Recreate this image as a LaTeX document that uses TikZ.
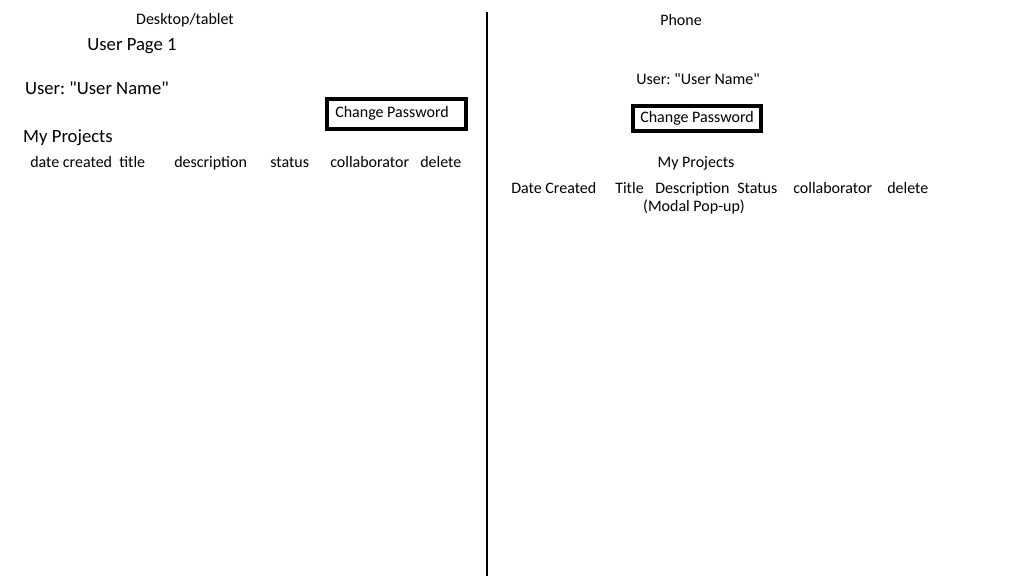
\documentclass[tikz,border=0pt]{standalone}
\usepackage{fontspec}
\setmainfont{Carlito}
\usepackage{tikz}
\frenchspacing

\newcommand{\qt}{\textquotedbl}

\tikzset{
  small/.style={inner sep=0pt,font=\fontsize{12}{14}\selectfont},
  big/.style={inner sep=0pt,font=\fontsize{14}{16}\selectfont},
  pwbox/.style={draw,line width=2.4pt,inner sep=0pt},
  cell/.style={small,anchor=base west},
}

\begin{document}
\begin{tikzpicture}[x=0.75pt,y=-0.75pt]
\useasboundingbox (0,0) rectangle (1024,576);

% desktop / tablet
\node [small,anchor=base] (desktop) at (185,24.5) {Desktop/tablet};
\node [big,anchor=base] (page) at (132,50.5) {User Page 1};
\node [big,anchor=base] (user) at (97,94.5) {User: \qt User Name\qt};
\node [pwbox,minimum width=139*0.75pt,minimum height=30*0.75pt] (pwleft) at (396.5,114) {};
\node [cell] (pwlefttext) at (335,117.5) {Change Password};
\node [big,anchor=base] (projects) at (68,142.5) {My Projects};
\node [cell] (dcleft) at (30,167.5) {date created};
\node [cell] (titleleft) at (119,167.5) {title};
\node [cell] (descleft) at (174,167.5) {description};
\node [cell] (statusleft) at (270,167.5) {status};
\node [cell] (collableft) at (330,167.5) {collaborator};
\node [cell] (delleft) at (420,167.5) {delete};

% divider
\coordinate (top) at (487,12);
\coordinate (bottom) at (487,576);
\draw [line width=2.2pt] (top) -- (bottom);

% phone
\node [small,anchor=base] (phone) at (681,25.5) {Phone};
\node [small,anchor=base] (userright) at (698,84.5) {User: \qt User Name\qt};
\node [pwbox,minimum width=128*0.75pt,minimum height=25*0.75pt] (pwright) at (697,118.5) {};
\node [small,anchor=base] (pwrighttext) at (697,122.5) {Change Password};
\node [small,anchor=base] (projectsright) at (696,167.5) {My Projects};
\node [cell] (dcright) at (511,193.5) {Date Created};
\node [cell] (titleright) at (615,193.5) {Title};
\node [cell] (descright) at (655,193.5) {Description};
\node [cell] (statusright) at (737,193.5) {Status};
\node [cell] (collabright) at (793,193.5) {collaborator};
\node [cell] (delright) at (887,193.5) {delete};
\node [small,anchor=base] (modal) at (694,211.5) {(Modal Pop-up)};
\end{tikzpicture}
\end{document}
